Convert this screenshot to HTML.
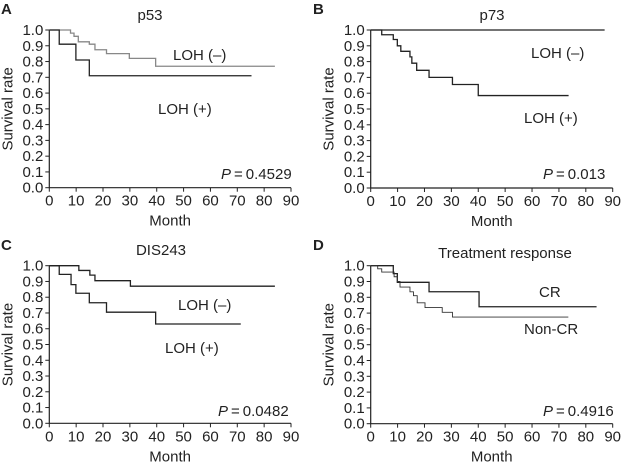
<!DOCTYPE html>
<html><head><meta charset="utf-8"><style>
body{margin:0;background:#fff}
svg{display:block;font-family:"Liberation Sans",Arial,sans-serif}
</style></head><body>
<svg id="fig" width="621" height="465" viewBox="0 0 621 465"></svg>
<script>
// Panel A (p53)
const aNegT=[0,7.9,9.2,10.8,14.9,17,21.3,29.8,39.6,84];
const aNegS=[1.0,0.98,0.96,0.925,0.91,0.875,0.85,0.82,0.77,0.77];
const aPosT=[0,3.7,9.9,14.9,75.3];
const aPosS=[1.0,0.91,0.81,0.71,0.71];
// Panel B (p73)
const bNegT=[0,87];
const bNegS=[1.0,1.0];
const bPosT=[0,4.1,8.4,9.9,11.2,14.6,15.3,17.1,21.7,30.4,40,73.6];
const bPosS=[1.0,0.97,0.94,0.9,0.865,0.83,0.79,0.745,0.70,0.655,0.585,0.585];
// Panel C (DIS243)
const cNegT=[0,11,15.1,17,30.2,84];
const cNegS=[1.0,0.97,0.94,0.905,0.87,0.87];
const cPosT=[0,3.7,8.1,9.9,14.9,21.3,39.6,71.3];
const cPosS=[1.0,0.945,0.88,0.825,0.765,0.705,0.63,0.63];
// Panel D (Treatment response)
const dCrT=[0,8.4,9.9,21.7,40.3,84];
const dCrS=[1.0,0.95,0.895,0.835,0.74,0.74];
const dNonT=[0,2.6,4.1,8.7,9.9,10.9,14.6,15.9,17.3,20.2,26.6,30.4,73.5];
const dNonS=[1.0,0.98,0.96,0.93,0.90,0.865,0.835,0.81,0.765,0.735,0.705,0.675,0.675];
const xTicks=[0,10,20,30,40,50,60,70,80,90];
const yTicks=[0,0.1,0.2,0.3,0.4,0.5,0.6,0.7,0.8,0.9,1.0];

const NS="http://www.w3.org/2000/svg";
const svg=document.getElementById('fig');
function mk(tag,attrs,parent){const e=document.createElementNS(NS,tag);for(const k in attrs)e.setAttribute(k,attrs[k]);(parent||svg).appendChild(e);return e;}
function txt(parent,x,y,s,anchor,size,name,extra){const t=mk('text',Object.assign({x:x,y:y,'text-anchor':anchor||'start','font-size':size||15,fill:'#222'},extra||{}),parent);t.textContent=s;


return t;}

function panel(p){
  const g=mk('g',{});
  
  
  const X=m=>p.x0+(p.x1-p.x0)*m/90;
  const Y=v=>p.y0+(p.y1-p.y0)*v;
  const ax=mk('path',{d:`M${p.x0},${Y(1)}V${p.y0}H${p.x1}`,stroke:'#222','stroke-width':1.2,fill:'none'},g);
  
  
  xTicks.forEach(t=>{
    const l=mk('line',{x1:X(t),x2:X(t),y1:p.y0,y2:p.y0+4,stroke:'#222','stroke-width':1},g);
    
    
    txt(g,X(t),p.y0+18,String(t),'middle',15,'x-tick-label');
  });
  yTicks.forEach(t=>{
    const l=mk('line',{x1:p.x0-4,x2:p.x0,y1:Y(t),y2:Y(t),stroke:'#222','stroke-width':1},g);
    
    
    txt(g,p.x0-6,Y(t)+5,t.toFixed(1),'end',15,'y-tick-label');
  });
  txt(g,(p.x0+p.x1)/2,p.y0+38,'Month','middle',15,'x-axis-title');
  txt(g,0,0,'Survival rate','middle',15,'y-axis-title',{transform:`translate(${p.x0-37},${(p.y0+Y(1))/2}) rotate(-90)`});
  txt(g,p.lx,p.ly,p.letter,'start',15,'panel-letter',{'font-weight':'bold'});
  txt(g,p.tx,p.ty,p.title,'middle',15,'panel-title');
  p.series.forEach(s=>{
    let d=`M${X(s.t[0])},${Y(s.s[0])}`;
    for(let i=1;i<s.t.length;i++){d+=`H${X(s.t[i])}V${Y(s.s[i])}`;}
    const path=mk('path',{d:d,stroke:s.color,'stroke-width':s.w,fill:'none'},g);
    
    
  });
  p.labels.forEach(l=>txt(g,l[0],l[1],l[2],'start',15,l[3]));
  const pt=txt(g,p.px,p.py,'','start',15,'p-value');
  const it=mk('tspan',{'font-style':'italic'},pt);it.textContent='P';
  const rt=mk('tspan',{},pt);rt.textContent='\u2009=\u20090.'+p.pval;
}

panel({id:'a',letter:'A',lx:1,ly:14,title:'p53',tx:150,ty:20,x0:49.3,x1:291,y0:187.7,y1:30,
 series:[{t:aNegT,s:aNegS,color:'#888',w:1.3,name:'loh-negative-curve'},{t:aPosT,s:aPosS,color:'#222',w:1.3,name:'loh-positive-curve'}],
 labels:[[173,60,'LOH (\u2013)','label-loh-negative'],[158,114,'LOH (+)','label-loh-positive']],px:221,py:179,pval:'4529'});
panel({id:'b',letter:'B',lx:313,ly:14,title:'p73',tx:492,ty:20,x0:370.7,x1:612.7,y0:188,y1:30,
 series:[{t:bNegT,s:bNegS,color:'#222',w:1.3,name:'loh-negative-curve'},{t:bPosT,s:bPosS,color:'#222',w:1.3,name:'loh-positive-curve'}],
 labels:[[531,58,'LOH (\u2013)','label-loh-negative'],[524,123,'LOH (+)','label-loh-positive']],px:543,py:179,pval:'013'});
panel({id:'c',letter:'C',lx:1,ly:250,title:'DIS243',tx:161,ty:255,x0:49.3,x1:291,y0:423.3,y1:265.7,
 series:[{t:cNegT,s:cNegS,color:'#222',w:1.3,name:'loh-negative-curve'},{t:cPosT,s:cPosS,color:'#222',w:1.3,name:'loh-positive-curve'}],
 labels:[[178,310,'LOH (\u2013)','label-loh-negative'],[165,353,'LOH (+)','label-loh-positive']],px:218,py:416,pval:'0482'});
panel({id:'d',letter:'D',lx:313,ly:250,title:'Treatment response',tx:505,ty:258,x0:370.7,x1:612.7,y0:423.7,y1:265.7,
 series:[{t:dCrT,s:dCrS,color:'#222',w:1.3,name:'cr-curve'},{t:dNonT,s:dNonS,color:'#333',w:0.9,name:'non-cr-curve'}],
 labels:[[539,297,'CR','label-cr'],[524,334,'Non-CR','label-non-cr']],px:543,py:416,pval:'4916'});
</script>
</body></html>
